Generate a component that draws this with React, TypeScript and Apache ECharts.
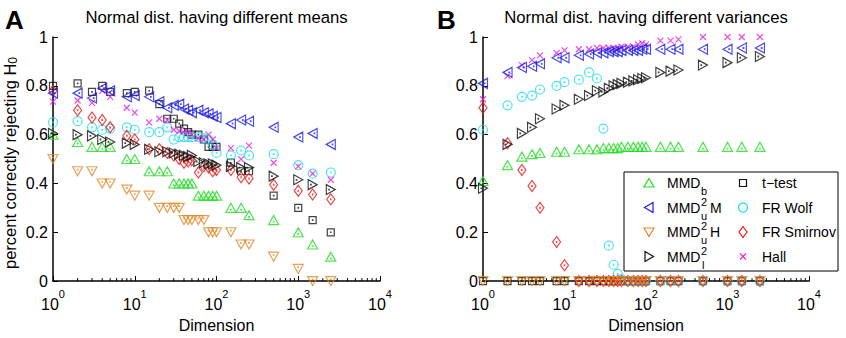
import React, { useEffect, useRef } from "react";
import * as echarts from "echarts";

// Problem dimensions (shared by both panels)
const dims = [1, 2, 3, 4, 5, 8, 10, 15, 20, 25, 30, 35, 40, 45, 50, 60, 70, 80, 90, 100, 150, 200, 250, 500, 1000, 1500, 2500];

// Panel A: normal distributions with different means
const mmdB_A = [0.6, 0.57, 0.55, 0.55, 0.55, 0.5, 0.5, 0.45, 0.45, 0.45, 0.4, 0.4, 0.4, 0.4, 0.4, 0.35, 0.35, 0.35, 0.35, 0.35, 0.3, 0.3, 0.27, 0.25, 0.2, 0.15, 0.1];
const mmdM_A = [0.77, 0.77, 0.75, 0.79, 0.78, 0.755, 0.76, 0.755, 0.735, 0.71, 0.72, 0.725, 0.705, 0.7, 0.69, 0.7, 0.69, 0.685, 0.675, 0.67, 0.645, 0.66, 0.655, 0.63, 0.59, 0.605, 0.56];
const mmdH_A = [0.5, 0.45, 0.45, 0.4, 0.4, 0.375, 0.35, 0.35, 0.3, 0.3, 0.3, 0.3, 0.25, 0.25, 0.25, 0.25, 0.25, 0.2, 0.2, 0.2, 0.2, 0.15, 0.15, 0.1, 0.05, 0, 0];
const mmdL_A = [0.605, 0.6, 0.595, 0.58, 0.57, 0.565, 0.56, 0.54, 0.53, 0.53, 0.525, 0.52, 0.515, 0.51, 0.515, 0.49, 0.485, 0.48, 0.48, 0.475, 0.47, 0.465, 0.465, 0.43, 0.415, 0.395, 0.375];
const ttest_A = [0.8, 0.81, 0.775, 0.8, 0.775, 0.77, 0.775, 0.78, 0.725, 0.665, 0.665, 0.645, 0.625, 0.61, 0.6, 0.6, 0.58, 0.55, 0.55, 0.55, 0.485, 0.45, 0.45, 0.35, 0.3, 0.25, 0.2];
const frWolf_A = [0.65, 0.655, 0.63, 0.62, 0.625, 0.63, 0.62, 0.61, 0.61, 0.63, 0.58, 0.59, 0.59, 0.59, 0.59, 0.59, 0.585, 0.58, 0.56, 0.525, 0.515, 0.535, 0.515, 0.52, 0.475, 0.44, 0.445];
const frSmir_A = [0.78, 0.7, 0.67, 0.66, 0.63, 0.595, 0.58, 0.54, 0.54, 0.525, 0.515, 0.5, 0.485, 0.49, 0.495, 0.445, 0.47, 0.465, 0.45, 0.455, 0.455, 0.425, 0.42, 0.395, 0.37, 0.355, 0.335];
const hall_A = [0.735, 0.74, 0.73, 0.78, 0.755, 0.71, 0.69, 0.65, 0.665, 0.66, 0.62, 0.615, 0.61, 0.61, 0.6, 0.585, 0.58, 0.6, 0.58, 0.545, 0.545, 0.5, 0.555, 0.485, 0.47, 0.44, 0.415];

// Panel B: normal distributions with different variances
const mmdB_B = [0.41, 0.475, 0.51, 0.52, 0.525, 0.53, 0.53, 0.54, 0.54, 0.54, 0.545, 0.545, 0.545, 0.545, 0.55, 0.55, 0.55, 0.55, 0.55, 0.55, 0.55, 0.55, 0.55, 0.55, 0.55, 0.55, 0.55];
const mmdM_B = [0.81, 0.855, 0.875, 0.88, 0.89, 0.915, 0.915, 0.925, 0.93, 0.935, 0.935, 0.94, 0.94, 0.94, 0.945, 0.945, 0.945, 0.945, 0.95, 0.95, 0.95, 0.95, 0.95, 0.95, 0.95, 0.955, 0.955];
const mmdH_B = [0, 0, 0, 0, 0, 0, 0, 0, 0, 0, 0, 0, 0, 0, 0, 0, 0, 0, 0, 0, 0, 0, 0, 0, 0, 0, 0];
const mmdL_B = [0.38, 0.56, 0.605, 0.63, 0.665, 0.705, 0.72, 0.745, 0.76, 0.78, 0.775, 0.79, 0.8, 0.805, 0.81, 0.815, 0.82, 0.825, 0.83, 0.833, 0.855, 0.86, 0.865, 0.885, 0.895, 0.915, 0.92];
const ttest_B = [0, 0, 0, 0, 0, 0, 0, 0, 0, 0, 0, 0, 0, 0, 0, 0, 0, 0, 0, 0, 0, 0, 0, 0, 0, 0, 0];
const frWolf_B = [0.62, 0.72, 0.755, 0.76, 0.785, 0.8, 0.815, 0.825, 0.855, 0.83, 0.625, 0.145, 0.067, 0.03, 0.007, 0, 0, 0, 0, 0, 0, 0, 0, 0, 0, 0, 0];
const frSmir_B = [0.71, 0.565, 0.455, 0.39, 0.3, 0.16, 0.065, 0, 0, 0, 0, 0, 0, 0, 0, 0, 0, 0, 0, 0, 0, 0, 0, 0, 0, 0, 0];
const hall_B = [0.745, 0.84, 0.885, 0.905, 0.925, 0.935, 0.945, 0.95, 0.95, 0.955, 0.955, 0.955, 0.955, 0.955, 0.96, 0.96, 0.96, 0.97, 0.975, 0.97, 0.985, 0.985, 0.99, 1, 1, 1, 1];

const yTicks = [0, 0.2, 0.4, 0.6, 0.8, 1];
const panelTitles = ["Normal dist. having different means", "Normal dist. having different variances"];

const FONT = '"Liberation Sans", Arial, Helvetica, sans-serif';

// Hollow marker outlines, each with a tiny centre dot
const SYM = {
  up: "path://M10,2L19,18L1,18Z M9.5,12.5L10.5,12.5L10.5,13.5L9.5,13.5Z",
  down: "path://M1,2L19,2L10,18Z M9.5,6.5L10.5,6.5L10.5,7.5L9.5,7.5Z",
  left: "path://M2,10L18,1L18,19Z M12.5,9.5L13.5,9.5L13.5,10.5L12.5,10.5Z",
  right: "path://M2,1L18,10L2,19Z M6.5,9.5L7.5,9.5L7.5,10.5L6.5,10.5Z",
  square: "path://M2,2L18,2L18,18L2,18Z M9.5,9.5L10.5,9.5L10.5,10.5L9.5,10.5Z",
  circle: "path://M2,10A8,8,0,1,1,18,10A8,8,0,1,1,2,10Z M9.5,9.5L10.5,9.5L10.5,10.5L9.5,10.5Z",
  diamond: "path://M10,1L17,10L10,19L3,10Z M9.5,9.5L10.5,9.5L10.5,10.5L9.5,10.5Z",
  cross: "path://M3,3L17,17M17,3L3,17",
};

const C = {
  green: "#22dd22",
  blue: "#1a1aee",
  orange: "#e0892a",
  black: "#111111",
  cyan: "#1fdcec",
  red: "#e81818",
  magenta: "#e020e0",
};

type Spec = { name: string; symbol: string; size: number[]; color: string; a: number[]; b: number[]; z: number };

const specs: Spec[] = [
  { name: "t-test", symbol: SYM.square, size: [7, 7], color: C.black, a: ttest_A, b: ttest_B, z: 2 },
  { name: "FR Wolf", symbol: SYM.circle, size: [9, 9], color: C.cyan, a: frWolf_A, b: frWolf_B, z: 3 },
  { name: "FR Smirnov", symbol: SYM.diamond, size: [8, 11], color: C.red, a: frSmir_A, b: frSmir_B, z: 4 },
  { name: "Hall", symbol: SYM.cross, size: [6, 6], color: C.magenta, a: hall_A, b: hall_B, z: 5 },
  { name: "MMD_b", symbol: SYM.up, size: [10, 9], color: C.green, a: mmdB_A, b: mmdB_B, z: 6 },
  { name: "MMD_u^2 M", symbol: SYM.left, size: [9, 10], color: C.blue, a: mmdM_A, b: mmdM_B, z: 7 },
  { name: "MMD_l^2", symbol: SYM.right, size: [9, 10], color: C.black, a: mmdL_A, b: mmdL_B, z: 8 },
  { name: "MMD_u^2 H", symbol: SYM.down, size: [10, 9], color: C.orange, a: mmdH_A, b: mmdH_B, z: 9 },
];

const GRIDS = [
  { left: 53, top: 37, width: 327, height: 248 },
  { left: 483, top: 37, width: 326, height: 248 },
];

export default function App() {
  const ref = useRef<HTMLDivElement>(null);

  useEffect(() => {
    document.body.style.margin = "0";
    const chart = echarts.init(ref.current!, null, { renderer: "svg" });

    const xAxis = GRIDS.map((_, i) => ({
      type: "log",
      logBase: 10,
      min: 1,
      max: 10000,
      gridIndex: i,
      name: "Dimension",
      nameLocation: "middle",
      nameGap: 34,
      nameTextStyle: { fontSize: 16, fontFamily: FONT, color: "#000" },
      axisLine: { lineStyle: { color: "#000", width: 1.5 } },
      axisTick: { inside: true, length: 5, lineStyle: { color: "#000", width: 1 } },
      splitLine: { show: false },
      axisLabel: {
        margin: 13,
        formatter: (v: number) => `{b|10}{s|${Math.round(Math.log10(v))}}`,
        rich: {
          b: { fontSize: 16, fontFamily: FONT, color: "#000", verticalAlign: "bottom", lineHeight: 18 },
          s: { fontSize: 11, fontFamily: FONT, color: "#000", verticalAlign: "bottom", lineHeight: 11, padding: [0, 0, 13, 0] },
        },
      },
    }));

    const yAxis = GRIDS.map((_, i) => ({
      type: "value",
      min: yTicks[0],
      max: yTicks[yTicks.length - 1],
      interval: 0.2,
      gridIndex: i,
      axisLine: { show: true, lineStyle: { color: "#000", width: 1.5 } },
      axisTick: { show: true, inside: true, length: 5, lineStyle: { color: "#000", width: 1 } },
      splitLine: { show: false },
      axisLabel: { margin: 5, fontSize: 16, fontFamily: FONT, color: "#000" },
    }));

    const series: any[] = [];
    [0, 1].forEach((p) => {
      specs.forEach((s) => {
        const vals = p === 0 ? s.a : s.b;
        series.push({
          type: "scatter",
          name: s.name,
          xAxisIndex: p,
          yAxisIndex: p,
          z: s.z,
          symbol: s.symbol,
          symbolSize: s.size,
          itemStyle: { color: "rgba(0,0,0,0)", borderColor: s.color, borderWidth: 1.2 },
          emphasis: { disabled: true },
          data: dims.map((d, i) => [d, vals[i]]),
        });
      });
    });

    chart.setOption({
      animation: false,
      grid: GRIDS,
      xAxis,
      yAxis,
      series,
    });

    // Minor log ticks at 2..9 per decade, placed through the axis scale
    const g: any[] = [];
    [0, 1].forEach((p) => {
      const y0 = chart.convertToPixel({ yAxisIndex: p } as any, 0) as number;
      for (let k = 0; k < 4; k++) {
        for (let m = 2; m <= 9; m++) {
          const x = chart.convertToPixel({ xAxisIndex: p } as any, m * Math.pow(10, k)) as number;
          g.push({
            type: "line",
            silent: true,
            shape: { x1: x, y1: y0, x2: x, y2: y0 - 3 },
            style: { stroke: "#000", lineWidth: 1 },
          });
        }
      }
    });

    // Panel titles and letters
    GRIDS.forEach((gr, p) => {
      g.push({
        type: "text",
        x: gr.left + gr.width / 2,
        y: 17,
        style: { text: panelTitles[p], font: `16.7px ${FONT}`, fill: "#000", textAlign: "center", textVerticalAlign: "middle" },
      });
    });
    g.push({ type: "text", x: 5, y: 7, style: { text: "A", font: `bold 26px ${FONT}`, fill: "#000" } });
    g.push({ type: "text", x: 437, y: 7, style: { text: "B", font: `bold 26px ${FONT}`, fill: "#000" } });

    // Y axis label
    g.push({
      type: "text",
      x: 10,
      y: 163,
      rotation: Math.PI / 2,
      style: {
        text: "percent correctly rejecting H{s|0}",
        font: `16.5px ${FONT}`,
        fill: "#000",
        textAlign: "center",
        textVerticalAlign: "middle",
        rich: { s: { fontSize: 12, fontFamily: FONT, verticalAlign: "bottom", lineHeight: 12 } },
      },
    });

    // Legend box
    const lx = 624, ly = 172, lw = 214, lh = 99;
    g.push({ type: "rect", shape: { x: lx, y: ly, width: lw, height: lh }, style: { fill: "#fff", stroke: "#000", lineWidth: 1 }, z: 50 });
    const rows = [183, 207.5, 232, 256.5];
    const mx1 = 649, tx1 = 667, mx2 = 743, tx2 = 762;
    const lf = `14px ${FONT}`;
    const sf = `11px ${FONT}`;
    const txt = (x: number, y: number, t: string, font = lf) => ({
      type: "text", x, y, z: 51,
      style: { text: t, font, fill: "#000", textVerticalAlign: "middle" },
    });
    const stroke = (c: string) => ({ fill: "none", stroke: c, lineWidth: 1.2 });
    // markers (column 1)
    g.push({ type: "polygon", z: 51, shape: { points: [[mx1, rows[0] - 4.5], [mx1 + 5, rows[0] + 4], [mx1 - 5, rows[0] + 4]] }, style: stroke(C.green) });
    g.push({ type: "polygon", z: 51, shape: { points: [[mx1 - 4.5, rows[1]], [mx1 + 4, rows[1] - 5], [mx1 + 4, rows[1] + 5]] }, style: stroke(C.blue) });
    g.push({ type: "polygon", z: 51, shape: { points: [[mx1 - 5, rows[2] - 4], [mx1 + 5, rows[2] - 4], [mx1, rows[2] + 4.5]] }, style: stroke(C.orange) });
    g.push({ type: "polygon", z: 51, shape: { points: [[mx1 - 4, rows[3] - 5], [mx1 + 4.5, rows[3]], [mx1 - 4, rows[3] + 5]] }, style: stroke(C.black) });
    // markers (column 2)
    g.push({ type: "rect", z: 51, shape: { x: mx2 - 3.5, y: rows[0] - 3.5, width: 7, height: 7 }, style: stroke(C.black) });
    g.push({ type: "circle", z: 51, shape: { cx: mx2, cy: rows[1], r: 4.5 }, style: stroke(C.cyan) });
    g.push({ type: "polygon", z: 51, shape: { points: [[mx2, rows[2] - 5.5], [mx2 + 4, rows[2]], [mx2, rows[2] + 5.5], [mx2 - 4, rows[2]]] }, style: stroke(C.red) });
    g.push({ type: "line", z: 51, shape: { x1: mx2 - 3, y1: rows[3] - 3, x2: mx2 + 3, y2: rows[3] + 3 }, style: stroke(C.magenta) });
    g.push({ type: "line", z: 51, shape: { x1: mx2 + 3, y1: rows[3] - 3, x2: mx2 - 3, y2: rows[3] + 3 }, style: stroke(C.magenta) });
    // labels (column 1) with stacked super/subscripts
    const supX = tx1 + 34;
    g.push(txt(tx1, rows[0], "MMD"));
    g.push(txt(supX, rows[0] + 8, "b", sf));
    g.push(txt(tx1, rows[1], "MMD"));
    g.push(txt(supX, rows[1] - 6, "2", sf));
    g.push(txt(supX, rows[1] + 8, "u", sf));
    g.push(txt(supX + 9, rows[1], "M"));
    g.push(txt(tx1, rows[2], "MMD"));
    g.push(txt(supX, rows[2] - 6, "2", sf));
    g.push(txt(supX, rows[2] + 8, "u", sf));
    g.push(txt(supX + 9, rows[2], "H"));
    g.push(txt(tx1, rows[3], "MMD"));
    g.push(txt(supX, rows[3] - 6, "2", sf));
    g.push(txt(supX + 1, rows[3] + 8, "l", sf));
    // labels (column 2)
    g.push(txt(tx2, rows[0], "t\u2212test"));
    g.push(txt(tx2, rows[1], "FR Wolf"));
    g.push(txt(tx2, rows[2], "FR Smirnov"));
    g.push(txt(tx2, rows[3], "Hall"));

    chart.setOption({ graphic: g });

    return () => chart.dispose();
  }, []);

  return <div ref={ref} style={{ width: 846, height: 338 }} />;
}
